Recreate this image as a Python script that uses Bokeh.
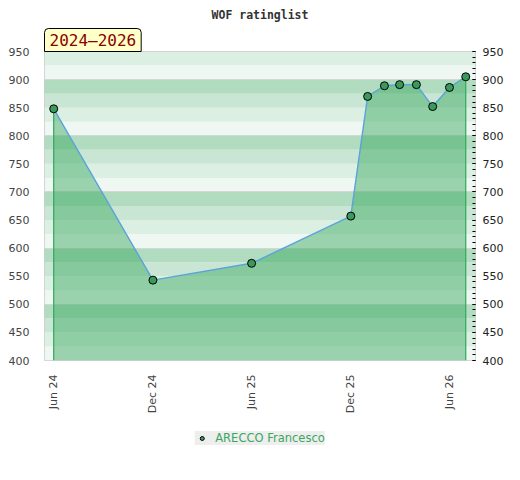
from datetime import datetime
from bokeh.plotting import figure
from bokeh.layouts import column
from bokeh.models import (Range1d, LinearAxis, FixedTicker, SingleIntervalTicker,
                          DatetimeTickFormatter, Legend, LegendItem, Title, BoxAnnotation)
from bokeh.embed import file_html
from bokeh.resources import INLINE

# ---- data ----
dates = ["2024-06-01", "2024-12-01", "2025-06-01", "2025-12-01", "2026-01-01",
         "2026-02-01", "2026-03-01", "2026-04-01", "2026-05-01", "2026-06-01", "2026-07-01"]
ratings = [848, 543, 573, 657, 870, 889, 891, 891, 852, 886, 905]
tick_dates = ["2024-06-01", "2024-12-01", "2025-06-01", "2025-12-01", "2026-06-01"]
player = "ARECCO Francesco"
period = "2024\u20132026"
y_min, y_max = 400, 950

x = [datetime.fromisoformat(d) for d in dates]
ticks_ms = [datetime.fromisoformat(d).timestamp() * 1000 for d in tick_dates]

p = figure(width=512, height=420, x_axis_type="datetime",
           x_range=Range1d(datetime(2024, 5, 15), datetime(2026, 7, 19)),
           y_range=Range1d(y_min, y_max),
           output_backend="svg", toolbar_location=None,
           min_border_left=44, min_border_right=37, min_border_top=50, min_border_bottom=60)
p.title.text = "WOF ratinglist"
p.title.align = "center"
p.title.text_font = "DejaVu Sans Mono"
p.title.text_font_size = "11.5px"
p.title.text_color = "#333333"
p.outline_line_color = "#cccccc"
p.background_fill_color = "white"
p.border_fill_color = "white"

# background bands (lightest at bottom of each 100 block, darkest at top)
band_colors = ["#eef7f1", "#dcefe3", "#c8e6d3", "#b1dcc0"]
for b in range(y_min, y_max, 25):
    p.add_layout(BoxAnnotation(bottom=b, top=b + 25, fill_color=band_colors[(b // 25) % 4],
                               fill_alpha=1, line_color=None, level="image"))

p.xgrid.visible = False
p.ygrid.ticker = SingleIntervalTicker(interval=100)
p.ygrid.grid_line_color = "#d6d6d6"

# area
p.varea(x=x, y1=[y_min] * len(x), y2=ratings, fill_color="#2ba355", fill_alpha=0.43)
p.segment(x0=[x[0], x[-1]], y0=[y_min, y_min], x1=[x[0], x[-1]], y1=[ratings[0], ratings[-1]],
          line_color="#2ea85a", line_width=1.2)
p.line(x, ratings, line_color="#5ba3dc", line_width=1.4)
pts = p.scatter(x, ratings, size=8, fill_color="#3a9a5b", line_color="black", line_width=1)

# axes
xa = p.xaxis[0]
xa.ticker = FixedTicker(ticks=ticks_ms)
xa.formatter = DatetimeTickFormatter(years="%b %y", months="%b %y", days="%b %y",
                                     hours="%b %y", minutes="%b %y", seconds="%b %y")
xa.major_label_orientation = 3.14159265 / 2
xa.axis_line_color = None
xa.major_tick_line_color = None
xa.minor_tick_line_color = None
xa.major_label_standoff = 8
xa.major_label_text_font = "DejaVu Sans"
xa.major_label_text_font_size = "11px"
xa.major_label_text_color = "#444444"

ya = p.yaxis[0]
ya.ticker = SingleIntervalTicker(interval=50, num_minor_ticks=5)
ya.axis_line_color = None
ya.major_tick_line_color = None
ya.minor_tick_line_color = None
ya.major_label_standoff = 9
ya.major_label_text_font = "DejaVu Sans"
ya.major_label_text_font_size = "11px"
ya.major_label_text_color = "#444444"

ra = LinearAxis(ticker=SingleIntervalTicker(interval=50, num_minor_ticks=5))
ra.axis_line_color = None
ra.major_tick_in = 3
ra.major_tick_out = 0
ra.minor_tick_in = 3
ra.minor_tick_out = 0
ra.major_tick_line_color = "black"
ra.minor_tick_line_color = "black"
ra.major_label_standoff = 7
ra.major_label_text_font = "DejaVu Sans"
ra.major_label_text_font_size = "11px"
ra.major_label_text_color = "#222222"
p.add_layout(ra, "right")

# period label box
p.add_layout(Title(text=period, align="left", text_font="DejaVu Sans Mono",
                   text_font_size="16px", text_color="#8b0000", text_font_style="normal",
                   background_fill_color="#ffffc8", border_line_color="black",
                   padding=dict(left=5, right=5, top=2, bottom=2),
                   border_radius=dict(top_left=4, top_right=4, bottom_right=0, bottom_left=0),
                   standoff=0, offset=0), "above")

# legend (in a strip below the chart)
lg = figure(width=512, height=36, output_backend="svg", toolbar_location=None,
            x_range=Range1d(0, 1), y_range=Range1d(0, 1),
            min_border_left=44, min_border_right=37, min_border_top=0, min_border_bottom=0)
lg.axis.visible = False
lg.grid.visible = False
lg.outline_line_color = None
proxy = lg.scatter(x=[x[0]], y=[ratings[0]], size=8, fill_color="#3a9a5b",
                   line_color="black", line_width=1)
legend = Legend(items=[LegendItem(label=player, renderers=[proxy])], orientation="horizontal",
                location="center", background_fill_color="#eeeeee", background_fill_alpha=1,
                border_line_color=None, label_text_color="#3aa75f",
                label_text_font="DejaVu Sans", label_text_font_size="11.5px",
                glyph_width=14, glyph_height=10, label_height=10, label_standoff=7,
                padding=4, margin=0)
lg.add_layout(legend)

open("out.html", "w").write(file_html(column(p, lg), INLINE))
